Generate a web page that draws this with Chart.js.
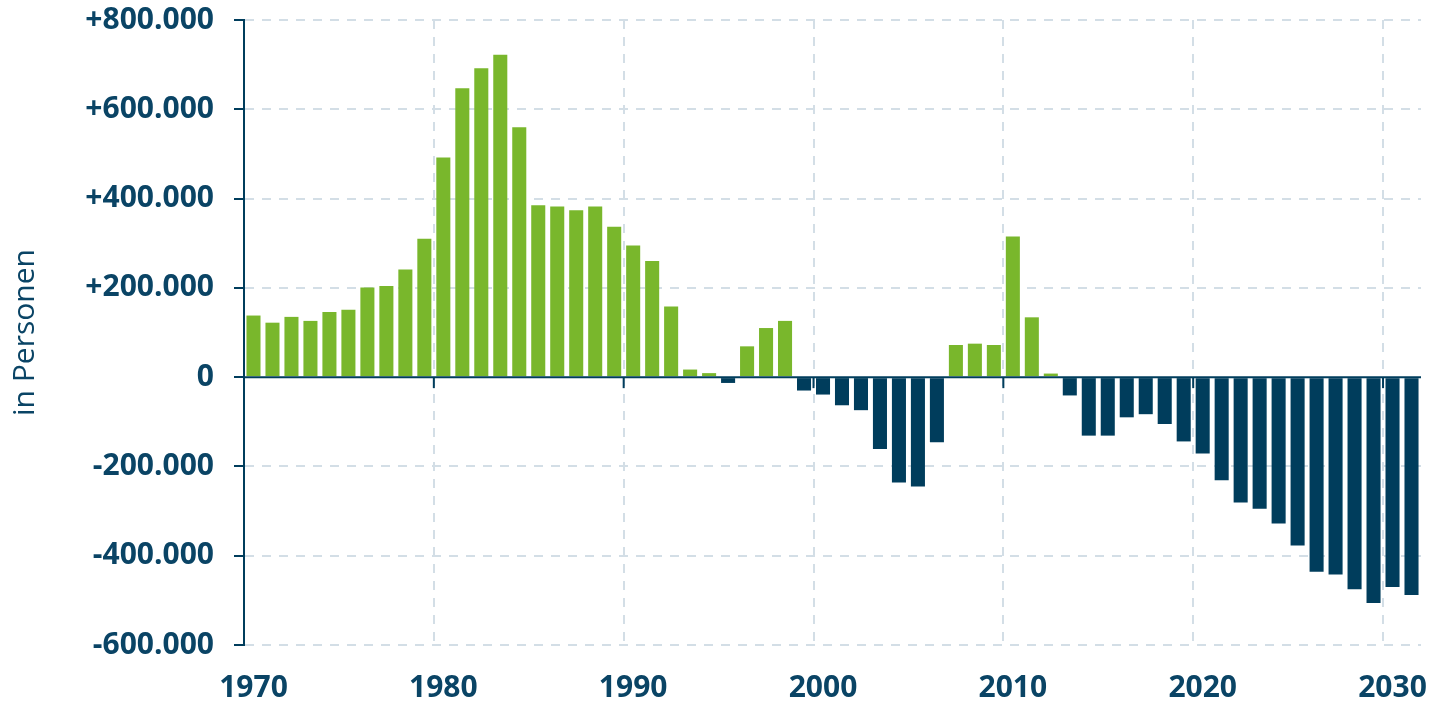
<!DOCTYPE html>
<html>
<head>
<meta charset="utf-8">
<script src="https://cdn.jsdelivr.net/npm/chart.js@4/dist/chart.umd.min.js"></script>
<style>
  html, body { margin: 0; padding: 0; background: #ffffff; }
  #wrap { width: 1431px; height: 707px; position: relative; }
</style>
</head>
<body>
<div id="wrap"><canvas id="c" width="1431" height="707"></canvas></div>
<script>
const years = [];
for (let y = 1970; y <= 2031; y++) years.push(String(y));

// net migration in thousands of persons
const values = [
  138, 122, 135, 126, 146, 151, 201, 204, 241, 310,
  492, 647, 692, 722, 560, 385, 382, 374, 382, 337,
  295, 260, 158, 17, 9, -13, 69, 110, 126, -30,
  -39, -63, -74, -161, -236, -245, -146, 72, 75, 72,
  315, 134, 8, -41, -131, -131, -90, -83, -105, -144,
  -171, -231, -281, -295, -328, -377, -436, -442, -475, -506,
  -470, -488
];
const yTicks = [-600000, -400000, -200000, 0, 200000, 400000, 600000, 800000];
const yTitle = 'in Personen';

const GREEN = '#79b72c';
const NAVY = '#003d5c';
const TEXT = '#0a4465';
const GRID = '#d3dee6';

const dataPersons = values.map(v => v * 1000);

function fmt(v) {
  const s = Math.abs(v).toString().replace(/\B(?=(\d{3})+(?!\d))/g, '.');
  if (v > 0) return '+' + s;
  if (v < 0) return '-' + s;
  return '0';
}

const zeroTicks = {
  id: 'zeroTicks',
  afterDatasetsDraw(chart) {
    const {ctx, scales: {x, y}, chartArea} = chart;
    const y0 = y.getPixelForValue(0);
    const step = x.getPixelForValue(1) - x.getPixelForValue(0);
    ctx.save();
    ctx.strokeStyle = NAVY;
    ctx.lineWidth = 2;
    ctx.beginPath();
    ctx.moveTo(chartArea.left, y0);
    ctx.lineTo(chartArea.right, y0);
    ctx.stroke();
    years.forEach((yr, i) => {
      if (i > 0 && Number(yr) % 10 === 0) {
        const px = x.getPixelForValue(i) - step / 2;
        ctx.beginPath();
        ctx.moveTo(px, y0);
        ctx.lineTo(px, y0 + 11);
        ctx.stroke();
      }
    });
    ctx.restore();
  }
};

new Chart(document.getElementById('c'), {
  type: 'bar',
  data: {
    labels: years,
    datasets: [{
      data: dataPersons,
      backgroundColor: dataPersons.map(v => v >= 0 ? GREEN : NAVY),
      borderWidth: 0,
      categoryPercentage: 1.0,
      barPercentage: 0.74
    }]
  },
  options: {
    responsive: false,
    animation: false,
    devicePixelRatio: 1,
    layout: { padding: { top: 20, right: 10, left: 0, bottom: 0 } },
    plugins: { legend: { display: false }, tooltip: { enabled: false } },
    scales: {
      x: {
        type: 'category',
        offset: true,
        afterFit(scale) {
          scale.height = 62;
          scale.paddingLeft = 0;
          scale.paddingRight = 0;
        },
        grid: {
          offset: true,
          drawTicks: false,
          lineWidth: 2,
          color(ctx) {
            const i = ctx.index;
            if (ctx.type === 'tick' || ctx.tick) {
              if (i > 0 && i < years.length && Number(years[i]) % 10 === 0) return GRID;
            }
            return 'rgba(0,0,0,0)';
          }
        },
        border: { display: false, dash: [9, 8] },
        ticks: {
          autoSkip: false,
          maxRotation: 0,
          minRotation: 0,
          padding: 25,
          color: TEXT,
          font: { family: 'Open Sans', size: 30, weight: 'bold' },
          callback(val, idx) {
            const yr = Number(years[idx]);
            return yr % 10 === 0 ? String(yr) : '';
          }
        }
      },
      y: {
        min: -600000,
        max: 800000,
        afterFit(scale) {
          scale.width = 244;
          scale.paddingTop = 0;
          scale.paddingBottom = 0;
        },
        afterBuildTicks(scale) { scale.ticks = yTicks.map(v => ({ value: v })); },
        grid: {
          lineWidth: 2,
          color(ctx) { return ctx.tick && ctx.tick.value === 0 ? 'rgba(0,0,0,0)' : GRID; },
          tickColor: NAVY,
          tickLength: 10,
          tickWidth: 2
        },
        border: {
          display: true,
          color: NAVY,
          width: 2,
          dash: [9, 8]
        },
        title: {
          display: true,
          text: yTitle,
          color: TEXT,
          font: { family: 'Open Sans', size: 30, weight: 'normal' },
          padding: { top: 7, bottom: 0 }
        },
        ticks: {
          padding: 20,
          color: TEXT,
          font: { family: 'Open Sans', size: 30, weight: 'bold' },
          callback(v) { return fmt(v); }
        }
      }
    }
  },
  plugins: [zeroTicks]
});
</script>
</body>
</html>
